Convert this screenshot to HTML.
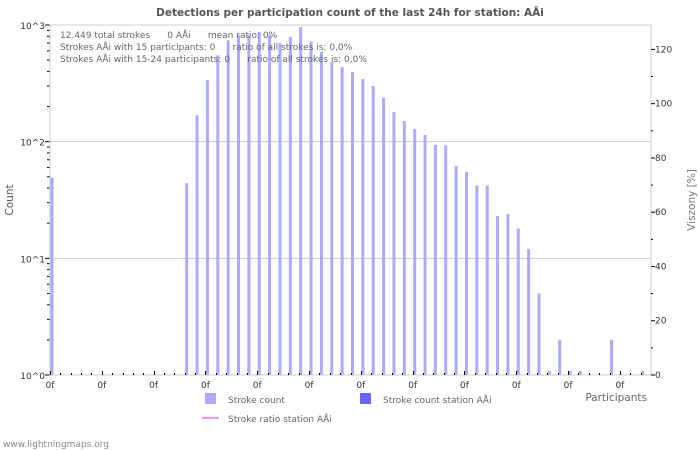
<!DOCTYPE html>
<html><head><meta charset="utf-8"><style>
body{margin:0;background:#fff;}
svg{display:block;font-family:"DejaVu Sans","Liberation Sans",sans-serif;}
</style></head><body>
<svg id="chart" width="700" height="450" viewBox="0 0 700 450">
<text x="350" y="16" text-anchor="middle" font-size="10.5" font-weight="bold" fill="#555">Detections per participation count of the last 24h for station: AÅi</text>
<g id="grid"></g>
<g id="bars"></g>
<g id="axes"></g>
<g font-size="9" fill="#666">
<text x="60" y="38">12.449 total strokes &#160;&#160;&#160;&#160; 0 AÅi &#160;&#160;&#160;&#160; mean ratio: 0%</text>
<text x="60" y="50">Strokes AÅi with 15 participants: 0 &#160;&#160;&#160;&#160; ratio of all strokes is: 0,0%</text>
<text x="60" y="62">Strokes AÅi with 15-24 participants: 0 &#160;&#160;&#160;&#160; ratio of all strokes is: 0,0%</text>
</g>
<text transform="translate(13,200) rotate(-90)" text-anchor="middle" font-size="10.5" fill="#555">Count</text>
<text transform="translate(695,200) rotate(-90)" text-anchor="middle" font-size="10.5" fill="#777">Viszony [%]</text>
<text x="647" y="401" text-anchor="end" font-size="10.5" fill="#666">Participants</text>
<g font-size="9" fill="#666">
<rect x="205" y="393" width="11" height="11" fill="#aaaaff"/>
<text x="228" y="403">Stroke count</text>
<rect x="360" y="393" width="11" height="11" fill="#6666ff"/>
<text x="383" y="403">Stroke count station AÅi</text>
<line x1="202" y1="418" x2="219" y2="418" stroke="#ee99ee" stroke-width="2"/>
<text x="228" y="422">Stroke ratio station AÅi</text>
</g>
<text x="3" y="447" font-size="9" fill="#888">www.lightningmaps.org</text>
</svg>
<script>
const counts=[49,0,0,0,0,0,0,0,0,0,0,0,0,44,168,337,550,740,820,820,870,820,700,790,960,720,590,480,435,395,345,300,237,179,150,128,114,94,93,62,55,42,42,23,24,18,12,5,1.08,2,1.08,1.08,0,0,2,0,0,1.08];
const stationCounts=new Array(58).fill(0);
const xTickLabels=["0f","0f","0f","0f","0f","0f","0f","0f","0f","0f","0f","0f"];
const yTickLabels=["10^0","10^1","10^2","10^3"];
const y2TickLabels=["0","20","40","60","80","100","120"];
const NS="http://www.w3.org/2000/svg";
const L=50,R=651,T=25,B=375,n=counts.length,slot=(R-L)/n;
const yLog=v=>B-(B-T)/3*Math.log10(Math.max(v,1));
const y2=v=>B-(B-T)*v/129;
const xS=i=>L+i*slot;
function mk(p,tag,a){const e=document.createElementNS(NS,tag);for(const k in a)e.setAttribute(k,a[k]);p.appendChild(e);return e;}
const grid=document.getElementById('grid'),bars=document.getElementById('bars'),axes=document.getElementById('axes');
yTickLabels.forEach((t,i)=>{const y=yLog(Math.pow(10,i));
 const g=mk(grid,'line',{x1:L,x2:R,y1:y,y2:y,stroke:'#ccc','stroke-width':1});
 
 
 const tx=mk(axes,'text',{x:L-5,y:y+4,'text-anchor':'end','font-size':9,fill:'#333'});tx.textContent=t;
 
 
 mk(axes,'line',{x1:L-5,x2:L,y1:y,y2:y,stroke:'#000'});
 if(i<3)for(let m=2;m<10;m++){const ym=yLog(m*Math.pow(10,i));mk(axes,'line',{x1:L-3,x2:L,y1:ym,y2:ym,stroke:'#000'});}
});
counts.forEach((v,i)=>{if(v<=0)return;const y=yLog(v);let h=B-y;if(h<1.5)h=1.5;
 const r=mk(bars,'rect',{x:xS(i)+0.5,y:B-h,width:3,height:h,fill:'#aaaaff'});
 
 
});
stationCounts.forEach((v,i)=>{if(v<=0)return;const y=yLog(v);
 const r=mk(bars,'rect',{x:xS(i)+4,y:y,width:3,height:B-y,fill:'#6666ff'});
 
 
});
mk(axes,'rect',{x:L,y:T,width:R-L,height:B-T,fill:'none',stroke:'#ccc'});
for(let i=0;i<n;i++){const x=Math.round(xS(i))+0.5;mk(axes,'line',{x1:x,x2:x,y1:B,y2:B-(i%5==0?4:2),stroke:'#000'});}
xTickLabels.forEach((t,k)=>{const tx=mk(axes,'text',{x:xS(k*5),y:388,'text-anchor':'middle','font-size':9,fill:'#333'});tx.textContent=t;
 
 });
y2TickLabels.forEach((t,k)=>{const v=+t,y=y2(v);mk(axes,'line',{x1:R,x2:R+4,y1:y,y2:y,stroke:'#000'});
 const yh=y2(v+10);if(v<120)mk(axes,'line',{x1:R,x2:R+2,y1:yh,y2:yh,stroke:'#000'});
 const tx=mk(axes,'text',{x:R+4,y:y+3,'font-size':9,fill:'#333'});tx.textContent=t;
 
 });
</script>
</body></html>
